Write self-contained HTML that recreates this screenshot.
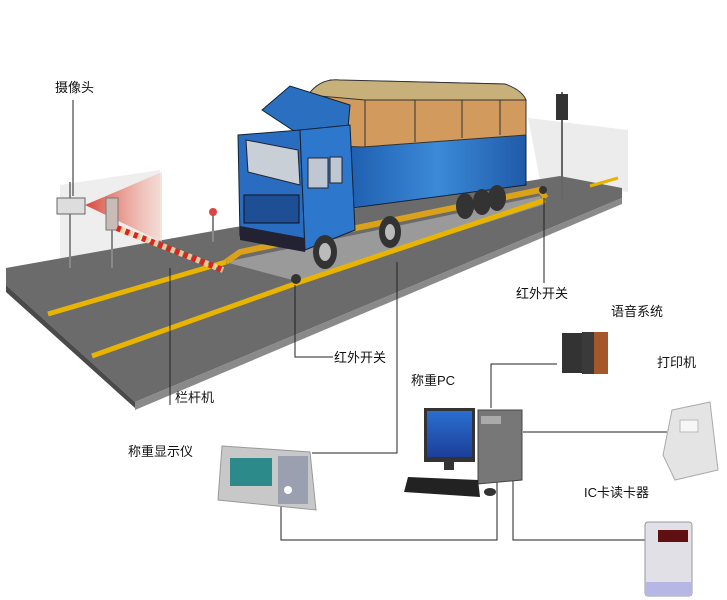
<!DOCTYPE html>
<html><head><meta charset="utf-8"><style>
html,body{margin:0;padding:0;background:#fff;}
svg{display:block;}
text{font-family:"Liberation Sans","Noto Sans CJK SC",sans-serif;font-size:13px;fill:#111;}
</style></head><body>
<svg width="727" height="600" viewBox="0 0 727 600" xmlns="http://www.w3.org/2000/svg">
<defs>
<linearGradient id="cone" x1="0" x2="1"><stop offset="0" stop-color="#d9463a"/><stop offset="1" stop-color="#f6d3c8" stop-opacity="0.6"/></linearGradient>
<linearGradient id="blue" x1="0" x2="1"><stop offset="0" stop-color="#1f5fb0"/><stop offset="0.5" stop-color="#3b8ad8"/><stop offset="1" stop-color="#1f5aa8"/></linearGradient>
<linearGradient id="scr" x1="0" y1="0" x2="0" y2="1"><stop offset="0" stop-color="#2a6fd0"/><stop offset="1" stop-color="#1c3f99"/></linearGradient>
</defs>
<polygon points="528,118 628,130 628,192 540,180" fill="#ececec"/>
<polygon points="60,185 160,170 160,262 60,275" fill="#eeeeee"/>
<polygon points="6,268 230,228 560,176 622,188 622,198 135,402 6,285" fill="#6b6b6b"/>
<polygon points="6,285 135,402 135,408 6,292" fill="#4a4a4a"/>
<polygon points="135,402 622,198 622,204 135,410" fill="#8a8a8a"/>
<polygon points="225,262 540,196 545,204 300,282" fill="#9a9a9a"/>
<polyline points="48,314 226,262" stroke="#e8b400" stroke-width="5" fill="none"/>
<polyline points="92,356 300,282 545,200" stroke="#e8b400" stroke-width="5" fill="none"/>
<polyline points="226,262 240,252 540,190 546,198" stroke="#d9a21a" stroke-width="6" fill="none"/>
<polyline points="590,186 618,178" stroke="#e8b400" stroke-width="3" fill="none"/>
<line x1="70" y1="182" x2="70" y2="268" stroke="#888" stroke-width="2"/>
<polygon points="85,205 162,172 162,242" fill="url(#cone)"/>
<rect x="57" y="198" width="28" height="16" fill="#ddd" stroke="#666"/>
<line x1="112" y1="225" x2="112" y2="268" stroke="#888" stroke-width="2"/>
<rect x="106" y="198" width="12" height="32" fill="#c9bcb6" stroke="#777"/>
<line x1="117" y1="228" x2="223" y2="270" stroke="#d22" stroke-width="6" stroke-dasharray="5,4"/>
<line x1="117" y1="228" x2="223" y2="270" stroke="#f2d7a0" stroke-width="6" stroke-dasharray="4,5" stroke-dashoffset="5" opacity="0.9"/>
<line x1="213" y1="214" x2="213" y2="242" stroke="#888" stroke-width="2"/>
<circle cx="213" cy="212" r="4" fill="#d44"/>
<line x1="562" y1="92" x2="562" y2="200" stroke="#666" stroke-width="2"/>
<rect x="556" y="94" width="12" height="26" fill="#333"/>
<!-- truck -->
<polygon points="350,145 526,118 526,185 352,208" fill="url(#blue)" stroke="#123" stroke-width="1"/>
<polygon points="308,95 330,80 505,84 526,100 526,135 363,147 305,145" fill="#d29a5c" stroke="#333"/>
<path d="M308,95 Q320,78 340,80 L505,84 Q522,90 526,100 L365,100 Z" fill="#c7b07a" stroke="#333"/>
<line x1="365" y1="100" x2="365" y2="147" stroke="#333"/>
<line x1="415" y1="100" x2="415" y2="142" stroke="#333"/>
<line x1="462" y1="100" x2="462" y2="138" stroke="#333"/>
<line x1="500" y1="100" x2="500" y2="135" stroke="#333"/>
<polygon points="262,110 290,86 350,105 348,128 300,135" fill="#2a6fc0" stroke="#123"/>
<polygon points="238,135 300,130 305,250 240,236" fill="#2a6cc0" stroke="#123"/>
<polygon points="300,130 350,125 355,230 305,250" fill="#2d78cc" stroke="#123"/>
<polygon points="246,140 298,150 300,185 248,172" fill="#c9cfd6" stroke="#223"/>
<rect x="308" y="158" width="20" height="30" fill="#bfc8d2" stroke="#223"/>
<rect x="330" y="157" width="12" height="26" fill="#bfc8d2" stroke="#223"/>
<rect x="244" y="195" width="55" height="28" fill="#1e4f95" stroke="#112"/>
<polygon points="240,226 305,238 305,252 240,240" fill="#223"/>
<ellipse cx="325" cy="252" rx="12" ry="17" fill="#333"/><ellipse cx="325" cy="252" rx="6" ry="9" fill="#bbb"/>
<ellipse cx="390" cy="232" rx="11" ry="16" fill="#333"/><ellipse cx="390" cy="232" rx="5" ry="8" fill="#bbb"/>
<ellipse cx="465" cy="206" rx="9" ry="13" fill="#333"/><ellipse cx="482" cy="202" rx="9" ry="13" fill="#333"/><ellipse cx="497" cy="198" rx="9" ry="13" fill="#333"/>
<circle cx="296" cy="279" r="5" fill="#333"/>
<circle cx="543" cy="190" r="4" fill="#333"/>
<g stroke="#222" stroke-width="1" fill="none">
<line x1="73" y1="100" x2="73" y2="196"/>
<line x1="170" y1="268" x2="170" y2="405"/>
<polyline points="295,285 295,357 333,357"/>
<line x1="544" y1="198" x2="544" y2="283"/>
<polyline points="397,262 397,453 312,453"/>
<polyline points="281,505 281,540 497,540 497,482"/>
<polyline points="491,408 491,364 557,364"/>
<line x1="523" y1="432" x2="667" y2="432"/>
<polyline points="513,478 513,540 645,540"/>
</g>
<text x="55" y="92">摄像头</text>
<text x="175" y="402">栏杆机</text>
<text x="334" y="362">红外开关</text>
<text x="516" y="298">红外开关</text>
<text x="611" y="316">语音系统</text>
<text x="657" y="367">打印机</text>
<text x="411" y="385">称重PC</text>
<text x="128" y="456">称重显示仪</text>
<text x="584" y="497">IC卡读卡器</text>
<polygon points="222,446 310,452 316,510 218,500" fill="#c8c8c8" stroke="#999"/>
<rect x="230" y="458" width="42" height="28" fill="#2d8a8a"/>
<rect x="278" y="456" width="30" height="48" fill="#9aa0b0"/>
<circle cx="288" cy="490" r="4" fill="#fff"/>
<rect x="424" y="408" width="51" height="54" fill="#333"/>
<rect x="427" y="411" width="45" height="46" fill="url(#scr)"/>
<rect x="444" y="462" width="10" height="8" fill="#333"/>
<polygon points="478,410 522,410 522,480 478,484" fill="#777" stroke="#444"/>
<rect x="481" y="416" width="20" height="8" fill="#aaa"/>
<polygon points="408,477 478,480 480,497 404,492" fill="#222"/>
<ellipse cx="490" cy="492" rx="6" ry="4" fill="#333"/>
<rect x="562" y="333" width="24" height="40" fill="#333"/>
<rect x="582" y="332" width="26" height="42" fill="#a4582a"/>
<rect x="582" y="332" width="12" height="42" fill="#3a3a3a"/>
<polygon points="672,410 710,402 718,470 675,480 663,455" fill="#e4e4e4" stroke="#aaa"/>
<rect x="680" y="420" width="18" height="12" fill="#f6f6f6" stroke="#bbb"/>
<rect x="645" y="522" width="47" height="74" rx="3" fill="#e0e0e6" stroke="#999"/>
<rect x="658" y="530" width="30" height="12" fill="#601010"/>
<rect x="645" y="582" width="47" height="14" fill="#b7b7e6"/>
</svg>
</body></html>
